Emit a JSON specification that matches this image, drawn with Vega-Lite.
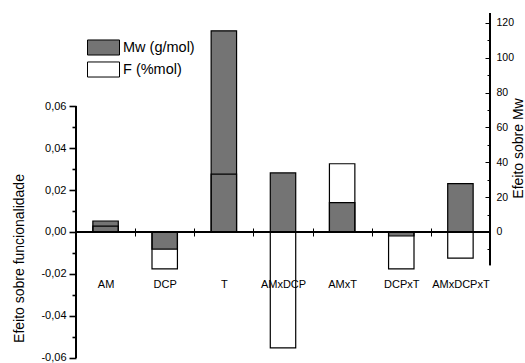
{
  "$schema": "https://vega.github.io/schema/vega-lite/v6.json",
  "autosize": {"type": "none"},
  "padding": {"left": 76, "top": 13, "right": 35, "bottom": 4},
  "width": 414,
  "height": 346,
  "background": "white",
  "config": {
    "view": {"stroke": null},
    "font": "Liberation Sans",
    "axis": {"labelFont": "Liberation Sans", "titleFont": "Liberation Sans", "labelColor": "black", "titleColor": "black", "tickColor": "black", "tickOpacity": 1, "tickWidth": 1, "domainColor": "black", "titleFontWeight": "normal", "grid": false}
  },
  "data": {
    "values": [
      {"factor": "AM", "serie": "Mw (g/mol)", "value": 6.3},
      {"factor": "DCP", "serie": "Mw (g/mol)", "value": -9.8},
      {"factor": "T", "serie": "Mw (g/mol)", "value": 115.5},
      {"factor": "AMxDCP", "serie": "Mw (g/mol)", "value": 33.9},
      {"factor": "AMxT", "serie": "Mw (g/mol)", "value": 16.9},
      {"factor": "DCPxT", "serie": "Mw (g/mol)", "value": -2.3},
      {"factor": "AMxDCPxT", "serie": "Mw (g/mol)", "value": 27.8},
      {"factor": "AM", "serie": "F (%mol)", "value": 0.0028},
      {"factor": "DCP", "serie": "F (%mol)", "value": -0.0176},
      {"factor": "T", "serie": "F (%mol)", "value": 0.0276},
      {"factor": "AMxDCP", "serie": "F (%mol)", "value": -0.0552},
      {"factor": "AMxT", "serie": "F (%mol)", "value": 0.0325},
      {"factor": "DCPxT", "serie": "F (%mol)", "value": -0.0176},
      {"factor": "AMxDCPxT", "serie": "F (%mol)", "value": -0.0124}
    ]
  },
  "layer": [
    {
      "layer": [
        {
          "mark": {"type": "rule", "color": "black", "strokeWidth": 1},
          "encoding": {
            "x": {"value": "width"},
            "y": {
              "datum": -19, "type": "quantitative",
              "axis": {"orient": "right", "title": null, "domain": false, "labels": false, "ticks": true, "values": [-10, 10, 30, 50, 70, 90, 110], "tickSize": -3}
            },
            "y2": {"datum": 125.74}
          }
        },
        {
          "transform": [{"filter": "datum.serie === 'Mw (g/mol)'"}],
          "mark": {"type": "bar", "width": {"band": 0.43}, "stroke": "black", "strokeWidth": 1.2},
          "encoding": {
            "x": {
              "field": "factor", "type": "nominal", "sort": null,
              "scale": {"paddingInner": 0, "paddingOuter": 0},
              "axis": {"title": null, "orient": "bottom", "offset": -131, "domain": false, "tickBand": "extent", "tickSize": 8, "labelAngle": 0, "labelFontSize": 11, "labelPadding": 42, "labelBaseline": "top"}
            },
            "y": {
              "field": "value", "type": "quantitative",
              "scale": {"domain": [-72.92, 125.74], "nice": false, "zero": false},
              "axis": {
                "orient": "right", "title": "Efeito sobre Mw", "titleFontSize": 14, "titleAngle": 270, "titleX": 28, "titleY": 135, "titleBaseline": "middle",
                "domain": false, "ticks": true,
                "values": [0, 20, 40, 60, 80, 100, 120],
                "tickSize": -5,
                "labelFontSize": 10.5, "labelPadding": 11
              }
            },
            "fill": {
              "field": "serie", "type": "nominal",
              "scale": {"domain": ["Mw (g/mol)", "F (%mol)"], "range": ["#747474", "transparent"]},
              "legend": {"orient": "none", "legendX": 19, "legendY": 26, "title": null, "padding": 0, "symbolType": "M-2,-0.94H2V0.94H-2Z", "symbolSize": 256, "symbolStrokeColor": "black", "symbolStrokeWidth": 1, "labelFont": "Liberation Sans", "labelFontSize": 14.5, "labelColor": "black", "labelOffset": 11, "rowPadding": 1}
            }
          }
        }
      ],
      "resolve": {"axis": {"y": "independent"}}
    },
    {
      "layer": [
        {
          "mark": {"type": "rule", "color": "black", "strokeWidth": 1},
          "encoding": {
            "x": {"value": 0},
            "y": {
              "datum": -0.06, "type": "quantitative",
              "axis": {"orient": "left", "title": null, "domain": false, "labels": false, "ticks": true, "tickColor": "black", "tickWidth": 1.6, "values": [-0.05, -0.03, -0.01, 0.01, 0.03, 0.05], "tickSize": 4}
            },
            "y2": {"datum": 0.06}
          }
        },
        {
          "mark": {"type": "rule", "color": "black", "strokeWidth": 1},
          "encoding": {
            "y": {"datum": 0, "type": "quantitative", "axis": null}
          }
        },
        {
          "transform": [{"filter": "datum.serie === 'F (%mol)'"}],
          "mark": {"type": "bar", "width": {"band": 0.43}, "stroke": "black", "strokeWidth": 1.2},
          "encoding": {
            "x": {
              "field": "factor", "type": "nominal", "sort": null,
              "scale": {"paddingInner": 0, "paddingOuter": 0},
              "axis": {"title": null, "orient": "bottom", "offset": -131, "domain": false, "tickBand": "extent", "tickSize": 8, "labelAngle": 0, "labelFontSize": 11, "labelPadding": 42, "labelBaseline": "top"}
            },
            "y": {
              "field": "value", "type": "quantitative",
              "scale": {"domain": [-0.06048, 0.10429], "nice": false, "zero": false},
              "axis": {
                "orient": "left", "title": "Efeito sobre funcionalidade", "titleFontSize": 14, "titleAngle": 270, "titleX": -57, "titleY": 245, "titleBaseline": "middle",
                "domain": false, "ticks": true, "tickColor": "black", "tickWidth": 1.6,
                "values": [-0.06, -0.04, -0.02, 0, 0.02, 0.04, 0.06],
                "tickSize": 7,
                "labelExpr": "(datum.value < -0.0001 ? '-' : '') + replace(format(abs(datum.value), '.2f'), '.', ',')",
                "labelFontSize": 11, "labelPadding": 3
              }
            },
            "fill": {"field": "serie", "type": "nominal"}
          }
        }
      ],
      "resolve": {"axis": {"y": "independent"}}
    }
  ],
  "resolve": {"scale": {"y": "independent"}}
}
